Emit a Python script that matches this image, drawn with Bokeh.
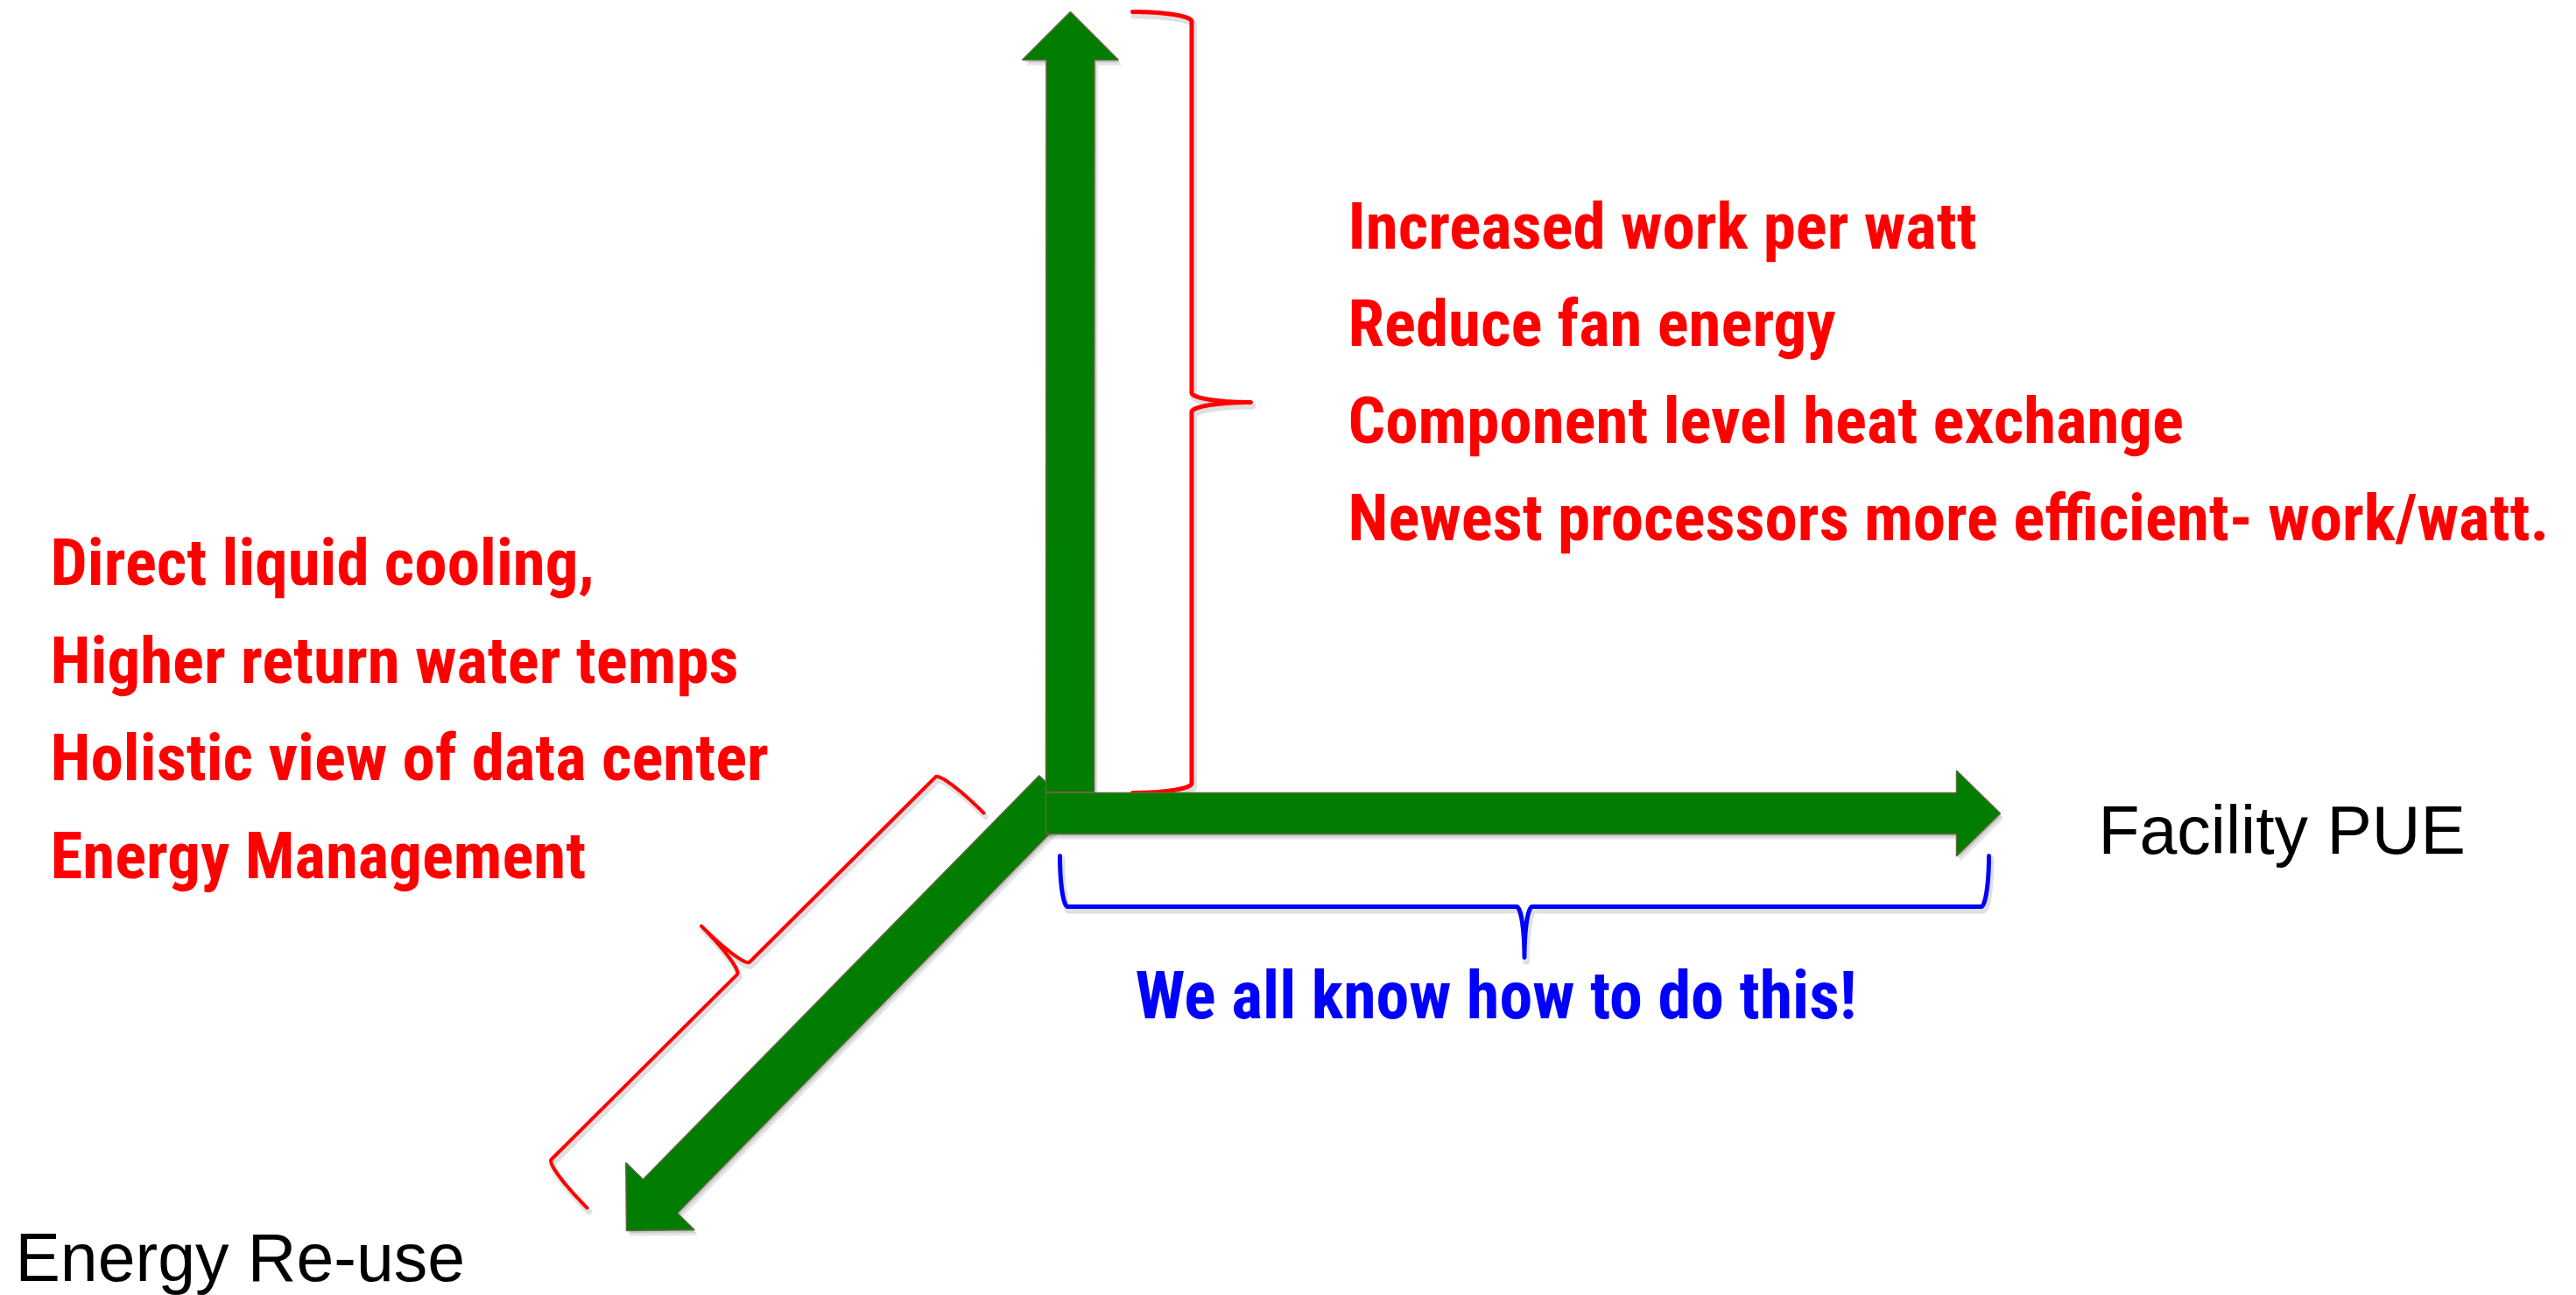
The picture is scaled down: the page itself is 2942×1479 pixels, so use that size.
import numpy as np
from bokeh.plotting import figure
from bokeh.models import Range1d
from bokeh.embed import file_html
from bokeh.resources import INLINE
from bokeh.core.properties import value

# ---------------- data ----------------
right_items = ["Increased work per watt",
               "Reduce fan energy",
               "Component level heat exchange",
               "Newest processors more efficient- work/watt."]
right_x = 1539
right_baselines = [283, 394, 505, 616]

left_items = ["Direct liquid cooling,",
              "Higher return water temps",
              "Holistic view of data center",
              "Energy Management"]
left_x = 57
left_baselines = [667, 779, 890, 1002]

blue_note = "We all know how to do this!"
blue_x, blue_y = 1296, 1162

axis_names = ["Facility PUE", "Energy Re-use"]
axis_name_x = [2396, 17]
axis_name_y = [973, 1461]

# arrows: diagonal (Energy Re-use), vertical, horizontal (Facility PUE)
arrow_start_x = [1206, 1221.5, 1194]
arrow_start_y = [904.5, 904, 928.5]
arrow_tip_x = [715, 1222, 2284]
arrow_tip_y = [1405, 13, 928.5]
shaft_half = [27.5, 27.5, 23.5]
head_half = [55, 55, 49]
head_len = [55, 55, 50]

# braces: end A, end B, side sign, half depth, curl radius, colour, width
brace_ax = [1293, 1210, 1123]
brace_ay = [13, 977, 928]
brace_bx = [1293, 2271, 670]
brace_by = [905, 977, 1379]
brace_side = [1, -1, -1]
brace_hw = [67.5, 58, 68]
brace_ry = [11, 9, 10]
brace_color = ["#FF0000", "#0000FF", "#FF0000"]
brace_width = [5, 5, 4]

TEXT_DY = -26  # renderer places alphabetic baseline lower than y


def arrow_poly(sx, sy, tx, ty, sh, hh, hl):
    S = np.array([sx, sy], float)
    T = np.array([tx, ty], float)
    d = (T - S) / np.linalg.norm(T - S)
    n = np.array([-d[1], d[0]])
    B = T - hl * d
    pts = [S + sh * n, B + sh * n, B + hh * n, T, B - hh * n, B - sh * n, S - sh * n]
    return [q[0] for q in pts], [q[1] for q in pts]


def brace_path(ax, ay, bx, by, side, hw, ry, m=40):
    A = np.array([ax, ay], float)
    B = np.array([bx, by], float)
    L = np.linalg.norm(B - A)
    u = (B - A) / L
    n = side * np.array([u[1], -u[0]])
    ph = np.linspace(0, np.pi / 2, m)
    th = np.linspace(np.pi, np.pi / 2, m)
    s = np.concatenate([ry + ry * np.cos(th),
                        L / 2 - ry + ry * np.sin(ph),
                        L / 2 + ry - ry * np.cos(ph),
                        L - ry + ry * np.sin(ph)])
    t = np.concatenate([hw * np.sin(th),
                        2 * hw - hw * np.cos(ph),
                        2 * hw - hw * np.sin(ph),
                        hw * np.cos(ph)])
    P = A[None, :] + s[:, None] * u[None, :] + t[:, None] * n[None, :]
    return P[:, 0], P[:, 1]


p = figure(width=2942, height=1479, x_range=Range1d(0, 2942), y_range=Range1d(1479, 0),
           output_backend="svg", toolbar_location=None, min_border=0,
           x_axis_location=None, y_axis_location=None)
p.grid.visible = False
p.outline_line_color = None
p.background_fill_color = "white"
p.border_fill_color = "white"

# braces (with soft shadow)
for i in range(len(brace_ax)):
    bx, by = brace_path(brace_ax[i], brace_ay[i], brace_bx[i], brace_by[i],
                        brace_side[i], brace_hw[i], brace_ry[i])
    p.line(bx + 2, by + 4, line_color="#000000", line_alpha=0.12,
           line_width=brace_width[i] + 3, line_join="round", line_cap="round")
    p.line(bx, by, line_color=brace_color[i], line_width=brace_width[i],
           line_join="round", line_cap="round")

# arrows
axs, ays = [], []
for i in range(len(arrow_tip_x)):
    xs, ys = arrow_poly(arrow_start_x[i], arrow_start_y[i], arrow_tip_x[i], arrow_tip_y[i],
                        shaft_half[i], head_half[i], head_len[i])
    axs.append(xs); ays.append(ys)
for i in range(len(axs)):
    p.patch([x + 4 for x in axs[i]], [y + 6 for y in ays[i]], fill_color="#000000",
            fill_alpha=0.10, line_color=None)
    p.patch([x + 2 for x in axs[i]], [y + 3 for y in ays[i]], fill_color="#000000",
            fill_alpha=0.12, line_color=None)
    p.patch(axs[i], ays[i], fill_color="#017D01", line_color="#5E6A3C", line_width=1.5)

# texts
bold_font = value("Liberation Sans Narrow, Arial Narrow, Roboto Condensed, "
                  "Noto Sans Condensed, DejaVu Sans Condensed, Liberation Sans")
p.text(x=[right_x] * len(right_items), y=[b + TEXT_DY for b in right_baselines],
       text=right_items, text_font=bold_font, text_font_style="bold",
       text_font_size="75px", text_color="#FF0000",
       text_baseline="alphabetic", text_align="left")
p.text(x=[left_x] * len(left_items), y=[b + TEXT_DY for b in left_baselines],
       text=left_items, text_font=bold_font, text_font_style="bold",
       text_font_size="75px", text_color="#FF0000",
       text_baseline="alphabetic", text_align="left")
p.text(x=[blue_x], y=[blue_y + TEXT_DY], text=[blue_note],
       text_font=bold_font, text_font_style="bold", text_font_size="76px",
       text_color="#0000FF", text_baseline="alphabetic", text_align="left")
p.text(x=axis_name_x, y=[b + TEXT_DY for b in axis_name_y], text=axis_names,
       text_font=value("Liberation Sans"), text_font_size="77px",
       text_color="#000000", text_baseline="alphabetic", text_align="left")

open("out.html", "w").write(file_html(p, INLINE))
